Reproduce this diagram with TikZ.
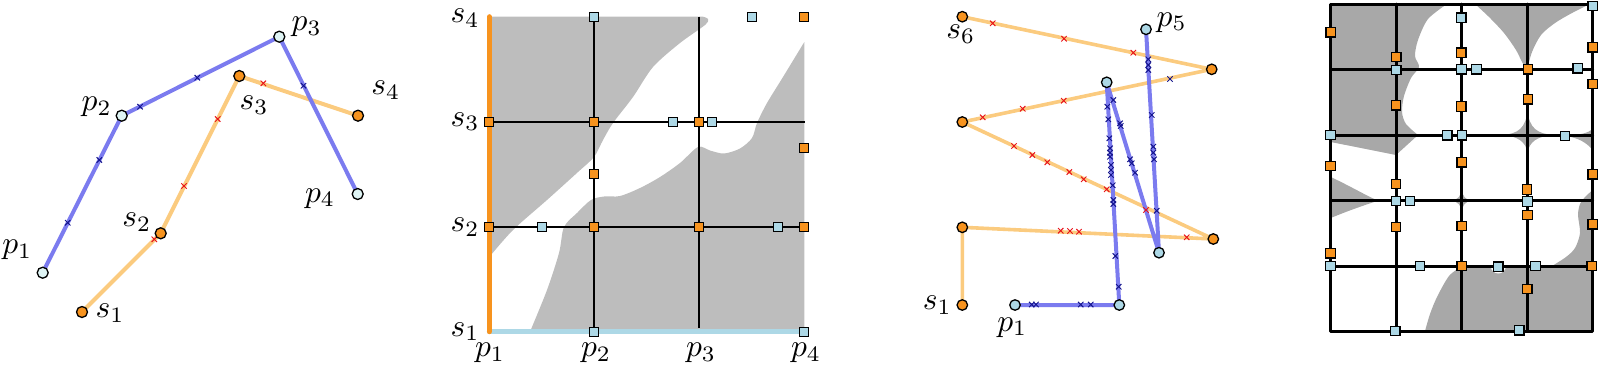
\documentclass[tikz,border=0pt]{standalone}
\definecolor{orfill}{HTML}{F7931E}
\definecolor{orline}{HTML}{FBCB7F}
\definecolor{blline}{HTML}{7B7BEF}
\definecolor{lbfill}{HTML}{ADD8E6}
\definecolor{pale}{HTML}{DFF4F4}
\definecolor{xblue}{HTML}{14148C}
\definecolor{xred}{HTML}{E8141B}
\definecolor{greyA}{HTML}{BDBDBD}
\definecolor{greyB}{HTML}{A8A8A8}
\tikzset{
 dotp/.style={circle,draw=black,line width=1.3pt,inner sep=0pt,minimum size=10.5pt,fill=pale},
 dotq/.style={dotp,fill=lbfill},
 doto/.style={dotp,fill=orfill},
 sqb/.style={rectangle,draw=black,line width=1.2pt,inner sep=0pt,minimum size=9pt,fill=lbfill},
 sqo/.style={sqb,fill=orfill},
 bpath/.style={draw=blline,line width=4pt,line join=round},
 opath/.style={draw=orline,line width=4pt,line join=round},
 gline/.style={draw=black,line width=1.7pt},
 hline/.style={draw=black,line width=3pt,line cap=round,line join=round},
 lab/.style={inner sep=0pt,scale=3.15},
 xm/.pic={\draw[line width=1pt,#1] (-2.7,-2.7)--(2.7,2.7) (-2.7,2.7)--(2.7,-2.7);},
}
\begin{document}
\begin{tikzpicture}[x=1pt,y=-1pt]
\useasboundingbox (0,0) rectangle (1600,368);

% ---------------- Panel 1 ----------------
\coordinate (p1) at (42.7,272.7);
\coordinate (p2) at (121.7,115.7);
\coordinate (p3) at (279.3,36.7);
\coordinate (p4) at (357.7,194);
\coordinate (s1) at (82,312);
\coordinate (s2) at (160.7,233.3);
\coordinate (s3) at (239.3,76);
\coordinate (s4) at (358,115.7);
\draw[opath] (s1)--(s2)--(s3)--(s4);
\draw[bpath] (p1)--(p2)--(p3)--(p4);
\foreach \x/\y in {67.7/222.7,99.3/160,140/106.7,197.3/77.7,303.5/85.7}
  \pic at (\x,\y) {xm=xblue};
\foreach \x/\y in {154.3/239.3,184/186,217.7/119,263.3/83.3}
  \pic at (\x,\y) {xm=xred};
\foreach \n in {1,2,3,4} \node[dotp,minimum size=11pt] (np\n) at (p\n) {};
\foreach \n in {1,2,3,4} \node[doto,minimum size=11pt] (ns\n) at (s\n) {};
\node[lab] (lp1) at (17.3,250) {$p_1$};
\node[lab] (lp2) at (96.7,106.7) {$p_2$};
\node[lab] (lp3) at (306.7,26.7) {$p_3$};
\node[lab] (lp4) at (320,198.3) {$p_4$};
\node[lab] (ls1) at (110,313.3) {$s_1$};
\node[lab] (ls2) at (136.7,222.3) {$s_2$};
\node[lab] (ls3) at (254,105) {$s_3$};
\node[lab] (ls4) at (385.7,90) {$s_4$};

% ---------------- Panel 2 ----------------
\fill[greyA] (489.3,16.7) -- (703,16.7) -- plot[smooth] coordinates {(703,16.7) (708,19) (705,25) (680,43) (653,67) (633,97) (613,123) (603,140) (594,157) (578,172) (547,200) (513,230) (489.3,257)} -- cycle;
\fill[greyA] (530,331.7) -- plot[smooth] coordinates {(530,331.7) (547,290) (559,253) (564,227) (577,213) (591,200) (604,196.5) (620,196) (640,188) (660,177) (680,163) (698,147) (710,150.5) (724,153.5) (740,148.5) (752,138) (757,123) (767,103) (783,77) (804.3,42)} -- (804.3,331.7) -- cycle;
\draw[draw=lbfill,line width=5pt,line cap=round] (489.3,331.7) -- (804.3,331.7);
\draw[draw=orfill,line width=5pt,line cap=round] (489.3,331.7) -- (489.3,16.7);
\draw[gline] (594.3,16.7) -- (594.3,331.7);
\draw[gline] (699.3,16.7) -- (699.3,328);
\draw[gline] (489.3,122) -- (805,122);
\draw[gline] (489.3,227.3) -- (804.3,227.3);
\foreach \x/\y [count=\i] in {804.3/16.7,489.3/122,594.3/122,699.3/122,804.3/148,594.3/174,489.3/227.3,594.3/227.3,699.3/227.3,804.3/227.3}
  \node[sqo] (qo\i) at (\x,\y) {};
\foreach \x/\y [count=\i] in {594.3/16.7,752.3/16.7,673.3/122,712.3/122,541.7/227.3,777.7/227.3,594.3/331.7,804.3/331.7}
  \node[sqb] (qb\i) at (\x,\y) {};
\node[lab] (ms4) at (465,18) {$s_4$};
\node[lab] (ms3) at (465,121.7) {$s_3$};
\node[lab] (ms2) at (465,227) {$s_2$};
\node[lab] (ms1) at (465,331.7) {$s_1$};
\node[lab] (mp1) at (490,353) {$p_1$};
\node[lab] (mp2) at (596,353) {$p_2$};
\node[lab] (mp3) at (701,353) {$p_3$};
\node[lab] (mp4) at (806,353) {$p_4$};

% ---------------- Panel 3 ----------------
\coordinate (t1) at (962.3,305);
\coordinate (t2) at (962.3,227.3);
\coordinate (t3) at (1213.3,239);
\coordinate (t4) at (962.3,122);
\coordinate (t5) at (1211.7,69.3);
\coordinate (t6) at (962.3,16.7);
\coordinate (u1) at (1015,305);
\coordinate (u2) at (1119.3,305);
\coordinate (u3) at (1106.7,82.3);
\coordinate (u4) at (1159,252.7);
\coordinate (u5) at (1146,29.3);
\draw[opath,line width=3.6pt] (t1)--(t2)--(t3)--(t4)--(t5)--(t6);
\draw[bpath] (u1)--(u2)--(u3)--(u4)--(u5);
\foreach \x/\y in {1060.7/230.7,1070/231,1079/231.7,1186.7/237.3,
  1014/146,1032.3/155,1047.3/162.3,1069.3/172,1083.7/179.3,1106.7/189.3,1146/210,
  982.7/117.3,1022.7/108.7,1063.7/100.7,
  1133.3/52.7,1064/38.7,992.7/23.3}
  \pic at (\x,\y) {xm=xred};
\foreach \x/\y in {1031.7/304.5,1036/304.5,1080.7/304.5,1090.7/304.5,
  1118.7/286.7,1115.3/256,1113.3/204,1113.3/200,1112.7/185.3,1111/175,1111/170,1111/165,1110/156.7,1110/152.7,1110/148.3,1109.3/138.3,1108.3/119.3,1107.3/106.7,
  1113.3/100,1120/123.3,1120.7/126,1130/159.3,1131.7/163.3,1135/172.7,
  1156.7/210.7,1154/159.3,1153.3/152.7,1153.3/146.7,1151.7/115,1148.3/70,1148.3/65,1148.3/59.3,
  1170/79}
  \pic at (\x,\y) {xm=xblue};
\foreach \n in {1,...,6} \node[doto] (nt\n) at (t\n) {};
\foreach \n in {1,...,5} \node[dotq] (nu\n) at (u\n) {};
\node[lab] (lt6) at (960.7,34) {$s_6$};
\node[lab] (lt1) at (937.3,305) {$s_1$};
\node[lab] (lu5) at (1171.7,22.3) {$p_5$};
\node[lab] (lu1) at (1012.3,327.3) {$p_1$};

% ---------------- Panel 4 ----------------
\fill[greyB] (1330.7,4) -- (1447,4) -- plot[smooth] coordinates {(1447,4) (1428,19) (1418,40) (1415,56) (1419,67) (1411,78) (1404,96) (1402,112) (1406,124) (1418,135)} -- (1396,155) -- (1330.7,142) -- cycle;
\fill[greyB] (1475,4) -- plot[smooth] coordinates {(1475,4) (1489,17) (1504,33) (1516,50) (1522,62) (1527,70)} -- plot[smooth] coordinates {(1527,70) (1532,52) (1541,35) (1555,23) (1572,13) (1590,4)} -- cycle;
\fill[greyB] (1502,135) .. controls (1518,134) and (1526,128) .. (1527.5,110) .. controls (1529,128) and (1537,134) .. (1554,135) .. controls (1537,136) and (1529,142) .. (1527.5,153) .. controls (1526,142) and (1518,136) .. cycle;
\fill[greyB] (1566,136) .. controls (1580,135) and (1588,133) .. (1592.7,129) -- (1592.7,150) .. controls (1586,142) and (1578,138) .. cycle;
\fill[greyB] (1330.7,177) .. controls (1350,186) and (1365,195) .. (1378,200.7) .. controls (1365,205) and (1350,210) .. (1330.7,218) -- cycle;
\fill[greyB] (1451,200.7) .. controls (1458,200) and (1461,196) .. (1461.7,189) .. controls (1462.5,196) and (1465,200) .. (1472,200.7) .. controls (1465,201.5) and (1462.5,205) .. (1461.7,212) .. controls (1461,205) and (1458,201.5) .. cycle;
\fill[greyB] (1425,331) -- plot[smooth] coordinates {(1425,331) (1430,314) (1437,297) (1449,276) (1462,266)} -- (1552,266) -- plot[smooth] coordinates {(1552,266) (1566,257) (1575,248) (1580,233) (1578,215) (1580,204) (1585,197) (1592.7,190)} -- (1592.7,331) -- cycle;
\fill[white] (1498.3,266) circle (7.5);
\draw[hline] (1330.7,4) rectangle (1592.7,331);
\foreach \x in {1396,1461.7,1527.5} \draw[hline] (\x,4) -- (\x,331);
\foreach \y in {69.3,135,200.7,266} \draw[hline] (1330.7,\y) -- (1592.7,\y);
\foreach \x/\y [count=\i] in {1330.7/32.3,1396.3/57,1461.3/52.7,1592.7/47.3,1528/69.3,1592.7/84,1396/105.3,1461.3/106.5,1528/99.3,1330.5/166,1461.7/162.3,1592.7/174.3,1396/184,1527/189.5,1527.5/215,1396/227,1461.7/226,1592.7/224.3,1330.5/253.3,1461.7/266,1591.7/266,1527.3/289}
  \node[sqo,minimum size=9.5pt] (ro\i) at (\x,\y) {};
\foreach \x/\y [count=\i] in {1592.7/6,1461.3/17.7,1396.3/70,1461.5/69.3,1476.5/69.3,1577.7/68.3,1330.5/135,1447.3/135.3,1462/135.3,1565/136,1396/201,1410/201,1527.5/201.5,1330.5/266,1420/266,1498.3/266.7,1535.5/266,1395.3/331,1519.3/330.3}
  \node[sqb,minimum size=9.5pt] (rb\i) at (\x,\y) {};
\end{tikzpicture}
\end{document}
